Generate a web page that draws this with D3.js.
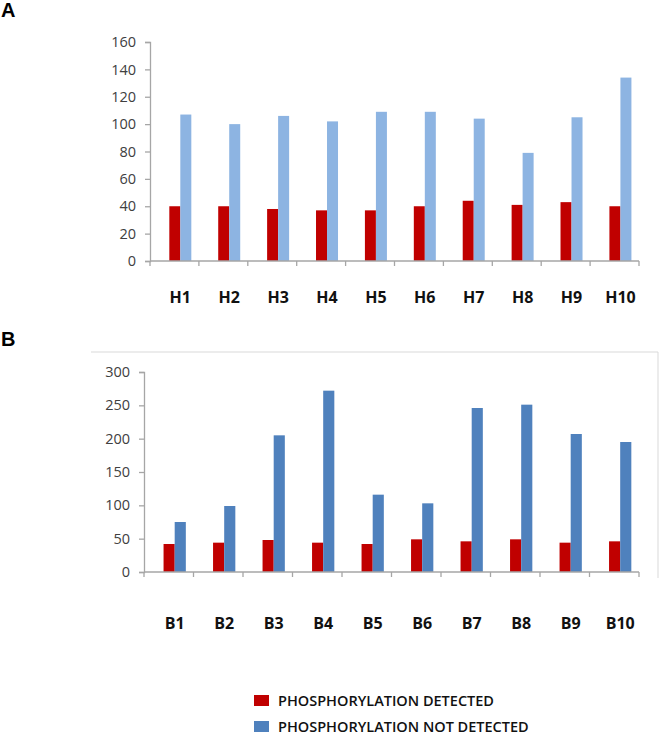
<!DOCTYPE html>
<html><head><meta charset="utf-8">
<script src="https://cdn.jsdelivr.net/npm/d3@7"></script>
<style>
html,body{margin:0;padding:0;background:#fff;}
svg{display:block;}
</style></head>
<body>
<svg id="chart" width="659" height="734"></svg>
<script>
// ---- data ----
const catsA = ["H1","H2","H3","H4","H5","H6","H7","H8","H9","H10"];
const detectedA = [40,40,38,37,37,40,44,41,43,40];
const notDetectedA = [107,100,106,102,109,109,104,79,105,134];
const ticksA = [0,20,40,60,80,100,120,140,160];

const catsB = ["B1","B2","B3","B4","B5","B6","B7","B8","B9","B10"];
const detectedB = [42,44,48,44,42,49,46,49,44,46];
const notDetectedB = [75,99,205,272,116,103,246,251,207,195];
const ticksB = [0,50,100,150,200,250,300];

const legendLabels = ["PHOSPHORYLATION DETECTED","PHOSPHORYLATION NOT DETECTED"];

// ---- styling ----
const RED = "#C00000";
const LIGHTBLUE = "#8DB4E2";
const BLUE = "#4F81BD";
const AXIS = "#A6A6A6";
const TXT = "#404040";
const tickFont = "'Open Sans', sans-serif";

const svg = d3.select("#chart");

function panel(cfg){
  const g = svg.append("g");
  const x = d3.scaleBand().domain(cfg.cats).range([cfg.x0, cfg.x1]).padding(0);
  const y = d3.scaleLinear().domain([0, cfg.max]).range([cfg.yb, cfg.yt]);
  const step = x.step();
  const off = step*0.395, bw = step*0.225;

  // y axis
  const ya = g.append("g").attr("transform",`translate(${cfg.x0},0)`)
    .call(d3.axisLeft(y).tickValues(cfg.ticks).tickSize(5).tickPadding(9).tickFormat(d3.format("d")));
  ya.select(".domain").attr("stroke",AXIS).attr("stroke-width",1.3);
  ya.selectAll(".tick line").attr("stroke",AXIS).attr("stroke-width",1.3);
  ya.selectAll(".tick text").attr("fill",TXT).style("font-family",tickFont).style("font-size","14.5px");

  // bars
  const rows = cfg.cats.map((c,i)=>({c, a:cfg.det[i], b:cfg.nd[i]}));
  g.selectAll(".r").data(rows).enter().append("rect")
    .attr("x",d=>x(d.c)+off).attr("width",bw)
    .attr("y",d=>y(d.a)).attr("height",d=>y(0)-y(d.a)).attr("fill",RED);
  g.selectAll(".b").data(rows).enter().append("rect")
    .attr("x",d=>x(d.c)+off+bw).attr("width",bw)
    .attr("y",d=>y(d.b)).attr("height",d=>y(0)-y(d.b)).attr("fill",cfg.blue);

  // x axis line + boundary ticks
  g.append("line").attr("x1",cfg.x0).attr("x2",cfg.x1).attr("y1",y(0)).attr("y2",y(0))
    .attr("stroke",AXIS).attr("stroke-width",1.3);
  const edges = cfg.cats.map(c=>x(c)).concat([cfg.x1]);
  g.selectAll(".et").data(edges).enter().append("line")
    .attr("x1",d=>d).attr("x2",d=>d).attr("y1",y(0)).attr("y2",y(0)+5)
    .attr("stroke",AXIS).attr("stroke-width",1.3);

  // category labels
  g.selectAll(".cl").data(cfg.cats).enter().append("text")
    .attr("x",c=>x(c)+off+bw).attr("y",cfg.labelY)
    .attr("text-anchor","middle").attr("fill","#111")
    .style("font-family",tickFont).style("font-weight","700").style("font-size","16px")
    .text(c=>c);

  // panel letter
  svg.append("text").attr("x",cfg.letterX).attr("y",cfg.letterY)
    .style("font-family","'Liberation Sans', Arial, sans-serif").style("font-weight","700")
    .style("font-size","20px").attr("fill","#000").text(cfg.letter);
  return g;
}

// chart frame for B (light border)
svg.append("path").attr("d","M91,352H658V578").attr("fill","none").attr("stroke","#D9D9D9").attr("stroke-width",1);

panel({cats:catsA, det:detectedA, nd:notDetectedA, ticks:ticksA, max:160,
  x0:150, x1:639, yb:261, yt:42, blue:LIGHTBLUE, labelY:303, letter:"A", letterX:1, letterY:17});
panel({cats:catsB, det:detectedB, nd:notDetectedB, ticks:ticksB, max:300,
  x0:144, x1:639, yb:572, yt:372, blue:BLUE, labelY:629, letter:"B", letterX:1, letterY:346});

// legend
const leg = svg.append("g");
const legColors = [RED, BLUE];
legendLabels.forEach((t,i)=>{
  const yy = 695 + i*26;
  leg.append("rect").attr("x",254).attr("y",yy).attr("width",15).attr("height",11).attr("fill",legColors[i]);
  leg.append("text").attr("x",278).attr("y",yy+10.5).attr("fill","#111")
    .style("font-family",tickFont).style("font-weight","600").style("font-size","14.5px").text(t);
});
</script>
</body></html>
